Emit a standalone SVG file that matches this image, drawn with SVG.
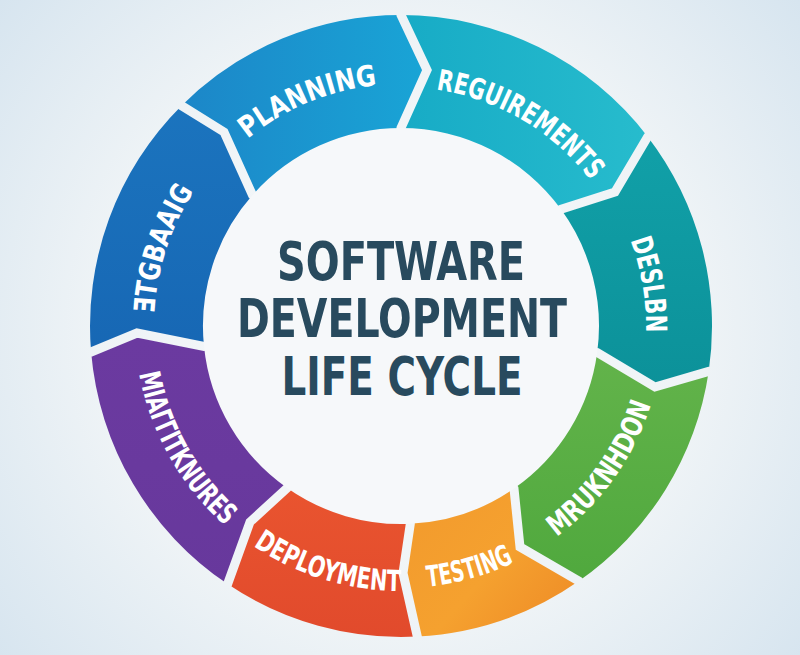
<svg xmlns="http://www.w3.org/2000/svg" width="800" height="655" viewBox="0 0 800 655">
<defs>
<radialGradient id="bg" cx="400" cy="330" r="560" gradientUnits="userSpaceOnUse">
<stop offset="0" stop-color="#f8fafb"/>
<stop offset="0.55" stop-color="#eef3f6"/>
<stop offset="1" stop-color="#d2e2ee"/>
</radialGradient>
<linearGradient id="gPlan" x1="180" y1="0" x2="430" y2="0" gradientUnits="userSpaceOnUse"><stop offset="0" stop-color="#1c86c8"/><stop offset="1" stop-color="#19a5d6"/></linearGradient>
<linearGradient id="gReq" x1="400" y1="0" x2="650" y2="0" gradientUnits="userSpaceOnUse"><stop offset="0" stop-color="#17abc6"/><stop offset="1" stop-color="#27bccd"/></linearGradient>
<linearGradient id="gDes" x1="0" y1="140" x2="0" y2="390" gradientUnits="userSpaceOnUse"><stop offset="0" stop-color="#11a0a8"/><stop offset="1" stop-color="#0c9199"/></linearGradient>
<linearGradient id="gGrn" x1="0" y1="360" x2="0" y2="590" gradientUnits="userSpaceOnUse"><stop offset="0" stop-color="#62b34a"/><stop offset="1" stop-color="#4fa83d"/></linearGradient>
<linearGradient id="gTst" x1="410" y1="490" x2="580" y2="640" gradientUnits="userSpaceOnUse"><stop offset="0" stop-color="#f29a2d"/><stop offset="0.5" stop-color="#f5a12f"/><stop offset="1" stop-color="#ed8825"/></linearGradient>
<linearGradient id="gDep" x1="0" y1="490" x2="0" y2="640" gradientUnits="userSpaceOnUse"><stop offset="0" stop-color="#e9542f"/><stop offset="1" stop-color="#e14a2c"/></linearGradient>
<linearGradient id="gPur" x1="0" y1="340" x2="0" y2="590" gradientUnits="userSpaceOnUse"><stop offset="0" stop-color="#6b3aa0"/><stop offset="1" stop-color="#67389c"/></linearGradient>
<linearGradient id="gBlu" x1="0" y1="105" x2="0" y2="355" gradientUnits="userSpaceOnUse"><stop offset="0" stop-color="#1b74be"/><stop offset="1" stop-color="#1767b4"/></linearGradient>
<mask id="gaps" maskUnits="userSpaceOnUse" x="0" y="0" width="800" height="655">
<rect width="800" height="655" fill="#fff"/>
<g fill="none" stroke="#000" stroke-width="9" stroke-linejoin="miter" stroke-miterlimit="10">
<polyline points="401,-10 401,15 427,70 401,128 401,148"/>
<polyline points="667.4,121.6 647.7,136.7 615,192 561,209.3 545,221"/>
<polyline points="733.3,375 708.7,371.4 655,387 597.2,352.5 577.6,349.9"/>
<polyline points="593.1,601.5 578.9,581.1 520,547 514,488.6 502.7,472.3"/>
<polyline points="418.6,661.4 417.3,636.6 403,573 410.3,523.8 409.4,504"/>
<polyline points="213.7,604.7 227.6,584.1 250,522 287.1,488 298.5,471.8"/>
<polyline points="66.3,354.1 91.1,352 137,333 204,346.4 223.7,344.4"/>
<polyline points="163.9,88.1 181.5,105.7 224,132 252.5,195.1 267.3,208.2"/>
</g>
</mask>
<path id="tpPlan" d="M248.7,137.9 A242,242 0 0 1 375.7,85.3"/>
<path id="tpReq" d="M434.3,89.3 A239,239 0 0 1 591.9,182.2"/>
<path id="tpDes" d="M617.3,211 A245,245 0 0 1 643,364.3"/>
<path id="tpGrn" d="M528,555.1 A262,262 0 0 0 659,371.5"/>
<path id="tpTst" d="M404.2,588 A262,262 0 0 0 534.8,551.3"/>
<path id="tpDep" d="M223.7,522.9 A265,265 0 0 0 437.9,588.4"/>
<path id="tpPur" d="M135.6,344.6 A266,266 0 0 0 248.4,543.9"/>
<path id="tpBlu" d="M159.4,377.4 A247,247 0 0 1 235.7,142.5"/>
</defs>
<style>
.lbl{font-family:'Liberation Sans Narrow','DejaVu Sans Condensed','Roboto Condensed','Liberation Sans',sans-serif;font-weight:bold;font-size:29px;fill:#ffffff;}
.ttl{font-family:'Liberation Sans Narrow','DejaVu Sans Condensed','Roboto Condensed','Liberation Sans',sans-serif;font-weight:bold;font-size:53px;fill:#284a5e;text-anchor:middle;}
</style>
<rect width="800" height="655" fill="url(#bg)"/>
<circle cx="401" cy="326" r="198" fill="#f6f8fa"/>
<g id="connectors"/>
<g id="planning">
<path d="M181.5,105.7 A311,311 0 0 1 401,15 L427,70 L401,128 A198,198 0 0 0 252.5,195.1 L224,132 Z" fill="url(#gPlan)" mask="url(#gaps)"/>
<text class="lbl"><textPath href="#tpPlan" startOffset="50%" text-anchor="middle" textLength="142" lengthAdjust="spacingAndGlyphs">PLANNING</textPath></text>
</g>
<g id="requirements">
<path d="M401,15 A311,311 0 0 1 647.7,136.7 L615,192 L561,209.3 A198,198 0 0 0 401,128 L427,70 Z" fill="url(#gReq)" mask="url(#gaps)"/>
<text class="lbl"><textPath href="#tpReq" startOffset="50%" text-anchor="middle" textLength="184" lengthAdjust="spacingAndGlyphs">REGUIREMENTS</textPath></text>
</g>
<g id="design">
<path d="M647.7,136.7 A311,311 0 0 1 708.7,371.4 L655,387 L597.2,352.5 A198,198 0 0 0 561,209.3 L615,192 Z" fill="url(#gDes)" mask="url(#gaps)"/>
<text class="lbl"><textPath href="#tpDes" startOffset="50%" text-anchor="middle" textLength="94" lengthAdjust="spacingAndGlyphs">DESLBN</textPath></text>
</g>
<g id="green-stage">
<path d="M708.7,371.4 A311,311 0 0 1 578.9,581.1 L520,547 L514,488.6 A198,198 0 0 0 597.2,352.5 L655,387 Z" fill="url(#gGrn)" mask="url(#gaps)"/>
<text class="lbl"><textPath href="#tpGrn" startOffset="50%" text-anchor="middle" textLength="165" lengthAdjust="spacingAndGlyphs">MRUKNHDON</textPath></text>
</g>
<g id="testing">
<path d="M578.9,581.1 A311,311 0 0 1 417.3,636.6 L403,573 L410.3,523.8 A198,198 0 0 0 514,488.6 L520,547 Z" fill="url(#gTst)" mask="url(#gaps)"/>
<text class="lbl"><textPath href="#tpTst" startOffset="50%" text-anchor="middle" textLength="90" lengthAdjust="spacingAndGlyphs">TESTING</textPath></text>
</g>
<g id="deployment">
<path d="M417.3,636.6 A311,311 0 0 1 227.6,584.1 L250,522 L287.1,488 A198,198 0 0 0 410.3,523.8 L403,573 Z" fill="url(#gDep)" mask="url(#gaps)"/>
<text class="lbl"><textPath href="#tpDep" startOffset="50%" text-anchor="middle" textLength="156" lengthAdjust="spacingAndGlyphs">DEPLOYMENT</textPath></text>
</g>
<g id="purple-stage">
<path d="M227.6,584.1 A311,311 0 0 1 91.1,352 L137,333 L204,346.4 A198,198 0 0 0 287.1,488 L250,522 Z" fill="url(#gPur)" mask="url(#gaps)"/>
<text class="lbl"><textPath href="#tpPur" startOffset="50%" text-anchor="middle" textLength="178" lengthAdjust="spacingAndGlyphs">MIAΓΓITKNURES</textPath></text>
</g>
<g id="blue-stage">
<path d="M91.1,352 A311,311 0 0 1 181.5,105.7 L224,132 L252.5,195.1 A198,198 0 0 0 204,346.4 L137,333 Z" fill="url(#gBlu)" mask="url(#gaps)"/>
<text class="lbl"><textPath href="#tpBlu" startOffset="50%" text-anchor="middle" textLength="130" lengthAdjust="spacingAndGlyphs">ƎTGBAAIG</textPath></text>
</g>
<g id="title">
<text class="ttl" x="401" y="280" textLength="248" lengthAdjust="spacingAndGlyphs">SOFTWARE</text>
<text class="ttl" x="402" y="337" textLength="330" lengthAdjust="spacingAndGlyphs">DEVELOPMENT</text>
<text class="ttl" x="402" y="395" textLength="241" lengthAdjust="spacingAndGlyphs">LIFE CYCLE</text>
</g>
</svg>
